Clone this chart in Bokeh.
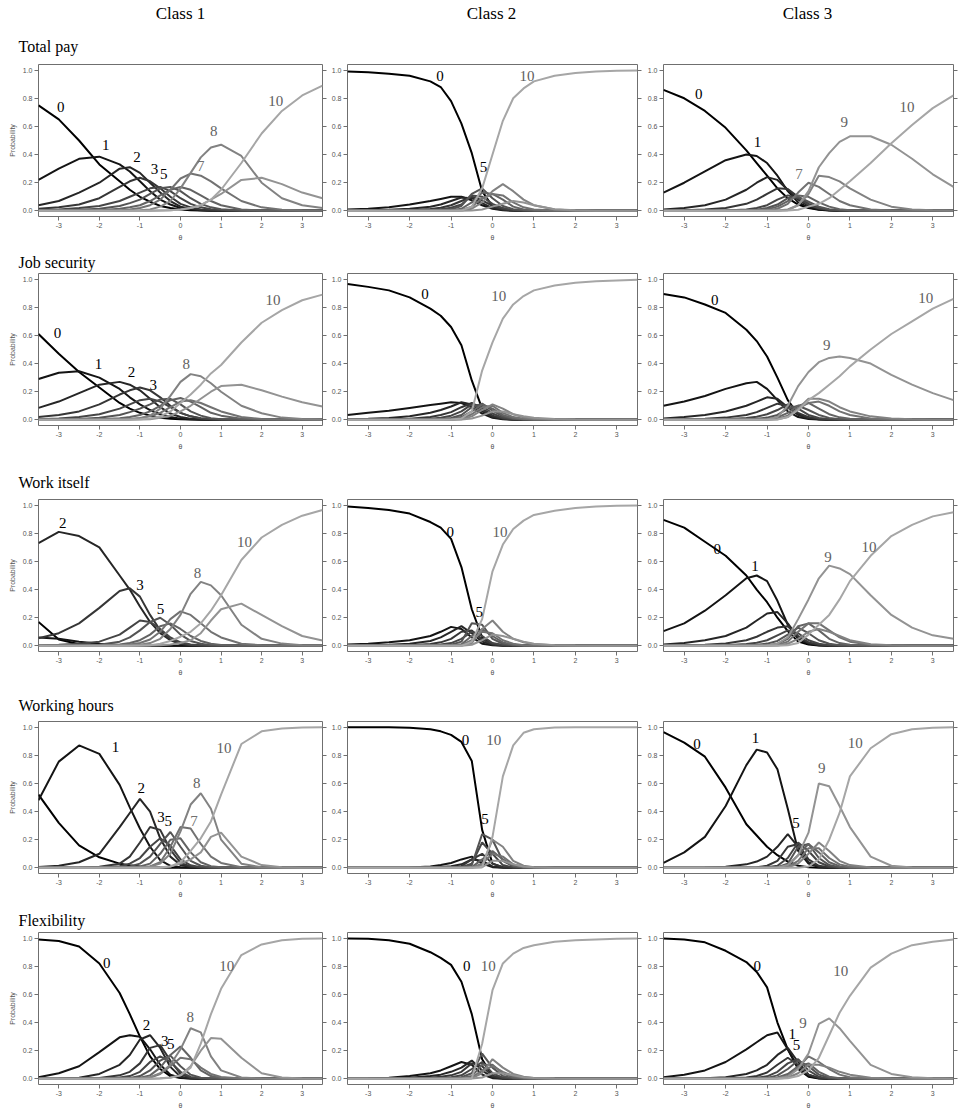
from bokeh.plotting import figure
from bokeh.layouts import column, row
from bokeh.models import Range1d, FixedTicker, LinearAxis, Title, PrintfTickFormatter, ColumnDataSource
from bokeh.core.properties import value
from bokeh.embed import file_html
from bokeh.resources import INLINE

# ---------------- data ----------------
THETA = [-3.5, -3, -2.5, -2, -1.5, -1.25, -1, -0.75, -0.5, -0.25, 0, 0.25, 0.5, 0.75, 1, 1.5, 2, 2.5, 3, 3.5]
CATEGORIES = list(range(11))
ROW_TITLES = ["Total pay", "Job security", "Work itself", "Working hours", "Flexibility"]
CLASS_TITLES = ["Class 1", "Class 2", "Class 3"]
X_TICKS = [-3, -2, -1, 0, 1, 2, 3]
Y_TICKS = [0.0, 0.2, 0.4, 0.6, 0.8, 1.0]

total_pay_1 = [
    [.75, .65, .50, .33, .21, .15, .10, .065, .035, .02, .01, .005, .003, .001, 0, 0, 0, 0, 0, 0],
    [.22, .30, .37, .385, .33, .28, .21, .14, .08, .045, .02, .01, .005, .002, .001, 0, 0, 0, 0, 0],
    [.04, .07, .13, .20, .30, .31, .27, .20, .13, .07, .03, .015, .007, .003, .001, 0, 0, 0, 0, 0],
    [.015, .025, .045, .09, .17, .21, .235, .21, .16, .10, .05, .025, .01, .005, .002, 0, 0, 0, 0, 0],
    [.005, .01, .02, .035, .07, .10, .13, .16, .17, .14, .09, .05, .025, .012, .006, .001, 0, 0, 0, 0],
    [.002, .004, .008, .015, .035, .055, .08, .12, .16, .17, .14, .09, .05, .025, .012, .003, 0, 0, 0, 0],
    [0, 0, .002, .005, .015, .025, .04, .07, .11, .15, .17, .15, .11, .07, .04, .01, .003, 0, 0, 0],
    [0, 0, 0, .001, .005, .01, .02, .04, .08, .15, .23, .265, .25, .21, .16, .07, .025, .008, .002, 0],
    [0, 0, 0, 0, .001, .002, .005, .01, .03, .07, .16, .27, .38, .45, .47, .39, .20, .09, .04, .02],
    [0, 0, 0, 0, 0, 0, 0, .001, .003, .005, .01, .02, .04, .08, .12, .22, .235, .19, .13, .09],
    [0, 0, 0, 0, 0, 0, 0, 0, .003, .005, .01, .02, .04, .08, .15, .34, .55, .71, .82, .89],
]
total_pay_2 = [
    [.99, .985, .975, .96, .92, .88, .78, .62, .41, .14, .03, .008, .002, 0, 0, 0, 0, 0, 0, 0],
    [.01, .015, .025, .045, .07, .085, .10, .10, .075, .04, .015, .005, .002, 0, 0, 0, 0, 0, 0, 0],
    [.002, .004, .008, .015, .03, .045, .07, .095, .09, .055, .02, .007, .002, 0, 0, 0, 0, 0, 0, 0],
    [0, .001, .002, .005, .013, .022, .04, .07, .10, .075, .035, .012, .004, .001, 0, 0, 0, 0, 0, 0],
    [0, 0, .001, .002, .006, .011, .022, .045, .11, .10, .05, .02, .006, .002, 0, 0, 0, 0, 0, 0],
    [0, 0, 0, .001, .003, .006, .012, .035, .12, .16, .09, .035, .012, .004, .001, 0, 0, 0, 0, 0],
    [0, 0, 0, 0, .001, .002, .005, .015, .06, .13, .12, .08, .03, .01, .004, .001, 0, 0, 0, 0],
    [0, 0, 0, 0, 0, .001, .002, .006, .03, .09, .12, .11, .06, .025, .01, .002, 0, 0, 0, 0],
    [0, 0, 0, 0, 0, 0, .001, .003, .015, .06, .14, .19, .14, .08, .04, .01, .003, .001, 0, 0],
    [0, 0, 0, 0, 0, 0, 0, .001, .003, .01, .03, .05, .07, .06, .04, .012, .004, .001, 0, 0],
    [0, 0, 0, 0, 0, 0, 0, .002, .03, .16, .40, .64, .80, .87, .92, .96, .98, .99, .995, .997],
]
total_pay_3 = [
    [.86, .80, .71, .59, .43, .34, .25, .16, .09, .045, .02, .008, .003, .001, 0, 0, 0, 0, 0, 0],
    [.13, .20, .28, .36, .40, .39, .34, .25, .14, .06, .025, .01, .004, .001, 0, 0, 0, 0, 0, 0],
    [.01, .02, .04, .08, .15, .20, .24, .22, .15, .08, .035, .015, .005, .002, 0, 0, 0, 0, 0, 0],
    [.002, .004, .01, .02, .05, .08, .12, .16, .155, .10, .05, .02, .008, .003, .001, 0, 0, 0, 0, 0],
    [0, 0, .001, .002, .01, .02, .04, .08, .11, .09, .045, .018, .007, .003, .001, 0, 0, 0, 0, 0],
    [0, 0, 0, .001, .004, .008, .02, .045, .09, .10, .065, .03, .012, .005, .002, 0, 0, 0, 0, 0],
    [0, 0, 0, 0, .002, .005, .012, .03, .07, .11, .10, .06, .03, .012, .005, .001, 0, 0, 0, 0],
    [0, 0, 0, 0, 0, .001, .005, .015, .05, .13, .20, .17, .12, .07, .04, .01, .003, 0, 0, 0],
    [0, 0, 0, 0, 0, 0, .001, .003, .01, .04, .12, .25, .24, .21, .16, .08, .03, .01, .004, .001],
    [0, 0, 0, 0, 0, 0, 0, .001, .005, .04, .14, .31, .41, .49, .53, .53, .47, .37, .26, .17],
    [0, 0, 0, 0, 0, 0, 0, 0, .002, .008, .03, .05, .09, .15, .21, .34, .48, .61, .73, .82],
]
job_security_1 = [
    [.61, .47, .34, .23, .12, .08, .05, .03, .015, .008, .004, .002, .001, 0, 0, 0, 0, 0, 0, 0],
    [.29, .335, .345, .30, .22, .16, .11, .07, .04, .02, .008, .004, .002, 0, 0, 0, 0, 0, 0, 0],
    [.085, .13, .19, .25, .27, .25, .21, .15, .09, .045, .02, .008, .004, .002, .001, 0, 0, 0, 0, 0],
    [.02, .035, .06, .11, .18, .21, .23, .21, .16, .10, .05, .025, .01, .005, .002, 0, 0, 0, 0, 0],
    [.005, .01, .02, .04, .08, .11, .14, .15, .13, .09, .05, .025, .012, .005, .002, 0, 0, 0, 0, 0],
    [.001, .003, .007, .015, .035, .055, .08, .11, .145, .15, .11, .06, .03, .012, .005, .001, 0, 0, 0, 0],
    [0, .001, .002, .005, .012, .02, .035, .06, .10, .14, .155, .13, .09, .05, .03, .008, .002, 0, 0, 0],
    [0, 0, 0, .001, .004, .007, .013, .025, .05, .09, .13, .14, .12, .09, .06, .02, .006, .002, 0, 0],
    [0, 0, 0, 0, .002, .005, .01, .03, .08, .17, .27, .325, .31, .26, .20, .10, .047, .016, .006, .002],
    [0, 0, 0, 0, 0, 0, .002, .005, .015, .03, .06, .10, .15, .20, .24, .25, .21, .165, .125, .095],
    [0, 0, 0, 0, 0, .002, .005, .01, .025, .06, .12, .18, .25, .33, .39, .55, .69, .78, .85, .89],
]
job_security_2 = [
    [.965, .945, .92, .87, .79, .74, .66, .53, .28, .08, .025, .008, .003, .001, 0, 0, 0, 0, 0, 0],
    [.035, .05, .065, .085, .105, .115, .125, .12, .09, .045, .015, .005, .002, 0, 0, 0, 0, 0, 0, 0],
    [.005, .008, .013, .025, .05, .07, .095, .125, .11, .06, .02, .007, .002, 0, 0, 0, 0, 0, 0, 0],
    [.001, .002, .004, .008, .02, .035, .055, .09, .12, .08, .03, .01, .003, .001, 0, 0, 0, 0, 0, 0],
    [0, 0, .001, .003, .008, .015, .03, .06, .11, .10, .045, .015, .005, .002, 0, 0, 0, 0, 0, 0],
    [0, 0, 0, .001, .003, .006, .013, .035, .09, .115, .065, .025, .008, .003, .001, 0, 0, 0, 0, 0],
    [0, 0, 0, 0, .001, .003, .006, .02, .06, .11, .08, .035, .012, .005, .002, 0, 0, 0, 0, 0],
    [0, 0, 0, 0, 0, .001, .003, .01, .04, .09, .10, .05, .02, .008, .003, .001, 0, 0, 0, 0],
    [0, 0, 0, 0, 0, 0, .001, .005, .025, .07, .11, .08, .04, .018, .008, .002, .001, 0, 0, 0],
    [0, 0, 0, 0, 0, 0, 0, .002, .01, .03, .06, .06, .04, .025, .015, .006, .003, .001, 0, 0],
    [0, 0, 0, 0, 0, 0, .002, .01, .06, .35, .55, .72, .82, .88, .92, .955, .975, .985, .99, .995],
]
job_security_3 = [
    [.895, .87, .82, .76, .64, .56, .45, .30, .14, .04, .015, .005, .002, 0, 0, 0, 0, 0, 0, 0],
    [.10, .13, .17, .22, .26, .27, .22, .14, .06, .02, .006, .002, .001, 0, 0, 0, 0, 0, 0, 0],
    [.01, .02, .035, .06, .10, .13, .16, .15, .09, .035, .012, .004, .001, 0, 0, 0, 0, 0, 0, 0],
    [.002, .004, .008, .016, .035, .055, .085, .115, .10, .05, .02, .007, .002, 0, 0, 0, 0, 0, 0, 0],
    [0, .001, .002, .005, .013, .022, .04, .07, .11, .08, .035, .013, .005, .002, 0, 0, 0, 0, 0, 0],
    [0, 0, 0, .001, .004, .008, .016, .035, .08, .10, .07, .035, .014, .005, .002, 0, 0, 0, 0, 0],
    [0, 0, 0, 0, .001, .003, .007, .018, .05, .10, .12, .08, .04, .018, .008, .002, 0, 0, 0, 0],
    [0, 0, 0, 0, 0, .001, .003, .008, .03, .08, .12, .13, .10, .06, .035, .01, .003, .001, 0, 0],
    [0, 0, 0, 0, 0, 0, .001, .004, .02, .08, .15, .15, .13, .09, .06, .025, .01, .004, .001, 0],
    [0, 0, 0, 0, 0, 0, .002, .02, .10, .24, .34, .41, .44, .45, .44, .40, .32, .25, .19, .14],
    [0, 0, 0, 0, 0, 0, 0, .003, .02, .07, .14, .19, .25, .31, .38, .50, .61, .70, .79, .86],
]
work_itself_1 = [
    [.17, .045, .012, .003, .001, 0, 0, 0, 0, 0, 0, 0, 0, 0, 0, 0, 0, 0, 0, 0],
    [.06, .05, .03, .015, .006, .003, .001, 0, 0, 0, 0, 0, 0, 0, 0, 0, 0, 0, 0, 0],
    [.73, .81, .78, .70, .50, .40, .28, .17, .09, .04, .015, .006, .002, .001, 0, 0, 0, 0, 0, 0],
    [.054, .09, .16, .27, .39, .41, .35, .22, .11, .045, .015, .005, .002, 0, 0, 0, 0, 0, 0, 0],
    [.005, .008, .015, .03, .08, .13, .18, .17, .12, .06, .025, .01, .003, .001, 0, 0, 0, 0, 0, 0],
    [0, .001, .003, .008, .03, .06, .11, .17, .20, .15, .08, .035, .015, .005, .002, 0, 0, 0, 0, 0],
    [0, 0, .001, .003, .01, .02, .04, .08, .14, .16, .12, .07, .035, .015, .007, .001, 0, 0, 0, 0],
    [0, 0, 0, .001, .004, .009, .02, .045, .10, .19, .245, .22, .16, .10, .06, .015, .004, .001, 0, 0],
    [0, 0, 0, 0, .001, .003, .008, .02, .05, .12, .22, .37, .455, .43, .36, .15, .05, .016, .005, .002],
    [0, 0, 0, 0, 0, 0, 0, .002, .005, .01, .02, .04, .09, .18, .26, .30, .22, .14, .07, .038],
    [0, 0, 0, 0, 0, 0, .002, .005, .015, .035, .065, .10, .16, .25, .36, .61, .77, .86, .925, .965],
]
work_itself_2 = [
    [.99, .98, .965, .94, .88, .84, .76, .56, .26, .06, .015, .004, .001, 0, 0, 0, 0, 0, 0, 0],
    [.01, .015, .025, .04, .07, .10, .135, .12, .06, .015, .004, .001, 0, 0, 0, 0, 0, 0, 0, 0],
    [.002, .004, .008, .015, .035, .06, .10, .14, .09, .03, .008, .002, 0, 0, 0, 0, 0, 0, 0, 0],
    [0, .001, .002, .005, .013, .025, .05, .10, .11, .045, .012, .003, .001, 0, 0, 0, 0, 0, 0, 0],
    [0, 0, 0, .001, .004, .009, .02, .05, .10, .07, .02, .006, .002, 0, 0, 0, 0, 0, 0, 0],
    [0, 0, 0, 0, .001, .003, .008, .03, .16, .15, .05, .015, .004, .001, 0, 0, 0, 0, 0, 0],
    [0, 0, 0, 0, 0, .001, .003, .012, .07, .12, .07, .025, .008, .002, 0, 0, 0, 0, 0, 0],
    [0, 0, 0, 0, 0, 0, .001, .005, .04, .10, .09, .04, .015, .005, .002, 0, 0, 0, 0, 0],
    [0, 0, 0, 0, 0, 0, 0, .002, .02, .12, .18, .10, .05, .025, .012, .004, .001, 0, 0, 0],
    [0, 0, 0, 0, 0, 0, 0, .001, .008, .04, .08, .07, .05, .03, .015, .005, .002, .001, 0, 0],
    [0, 0, 0, 0, 0, 0, 0, 0, .03, .19, .53, .72, .83, .89, .93, .96, .98, .99, .995, .998],
]
work_itself_3 = [
    [.895, .84, .74, .64, .50, .40, .31, .20, .105, .03, .01, .003, .001, 0, 0, 0, 0, 0, 0, 0],
    [.105, .16, .25, .36, .48, .50, .46, .32, .15, .05, .015, .005, .001, 0, 0, 0, 0, 0, 0, 0],
    [.01, .02, .04, .07, .13, .18, .23, .24, .16, .06, .02, .006, .002, 0, 0, 0, 0, 0, 0, 0],
    [.002, .004, .008, .017, .04, .065, .10, .13, .14, .07, .025, .008, .002, 0, 0, 0, 0, 0, 0, 0],
    [0, .001, .002, .005, .013, .022, .04, .075, .11, .09, .04, .015, .005, .002, 0, 0, 0, 0, 0, 0],
    [0, 0, 0, .001, .004, .008, .016, .035, .08, .13, .09, .04, .015, .005, .002, 0, 0, 0, 0, 0],
    [0, 0, 0, 0, .001, .002, .005, .015, .05, .14, .16, .11, .05, .02, .008, .002, 0, 0, 0, 0],
    [0, 0, 0, 0, 0, .001, .002, .007, .03, .10, .16, .16, .11, .06, .03, .008, .002, 0, 0, 0],
    [0, 0, 0, 0, 0, 0, .001, .003, .015, .05, .10, .12, .10, .07, .04, .012, .004, .001, 0, 0],
    [0, 0, 0, 0, 0, 0, .003, .015, .06, .19, .33, .48, .57, .55, .51, .36, .22, .13, .075, .05],
    [0, 0, 0, 0, 0, 0, 0, 0, .005, .02, .08, .15, .22, .33, .46, .64, .78, .86, .92, .95],
]
working_hours_1 = [
    [.52, .32, .16, .075, .03, .018, .01, .005, .002, 0, 0, 0, 0, 0, 0, 0, 0, 0, 0, 0],
    [.48, .755, .87, .81, .59, .43, .28, .15, .055, .015, .004, .001, 0, 0, 0, 0, 0, 0, 0, 0],
    [.007, .015, .04, .10, .29, .39, .49, .40, .21, .08, .02, .006, .002, 0, 0, 0, 0, 0, 0, 0],
    [0, .001, .003, .008, .03, .08, .18, .29, .27, .13, .035, .01, .003, 0, 0, 0, 0, 0, 0, 0],
    [0, 0, .001, .003, .012, .03, .07, .15, .21, .16, .06, .018, .005, .001, 0, 0, 0, 0, 0, 0],
    [0, 0, 0, .001, .004, .01, .03, .08, .17, .255, .15, .05, .015, .004, .001, 0, 0, 0, 0, 0],
    [0, 0, 0, 0, .001, .003, .01, .03, .10, .20, .21, .11, .04, .012, .004, 0, 0, 0, 0, 0],
    [0, 0, 0, 0, 0, .001, .003, .01, .04, .15, .29, .28, .17, .08, .035, .005, .001, 0, 0, 0],
    [0, 0, 0, 0, 0, .001, .003, .01, .03, .10, .26, .45, .53, .42, .20, .03, .004, .001, 0, 0],
    [0, 0, 0, 0, 0, 0, 0, .001, .004, .01, .03, .06, .11, .22, .25, .08, .02, .005, .001, 0],
    [0, 0, 0, 0, 0, 0, 0, 0, .002, .01, .04, .12, .21, .33, .52, .88, .97, .99, .998, 1.0],
]
working_hours_2 = [
    [1.0, 1.0, .999, .995, .985, .97, .945, .895, .76, .27, .03, .005, .001, 0, 0, 0, 0, 0, 0, 0],
    [0, 0, .001, .003, .01, .02, .035, .06, .08, .03, .005, .001, 0, 0, 0, 0, 0, 0, 0, 0],
    [0, 0, 0, .001, .003, .006, .012, .025, .06, .05, .01, .002, 0, 0, 0, 0, 0, 0, 0, 0],
    [0, 0, 0, 0, .001, .002, .005, .012, .06, .10, .03, .005, .001, 0, 0, 0, 0, 0, 0, 0],
    [0, 0, 0, 0, 0, 0, .001, .004, .03, .18, .10, .02, .003, 0, 0, 0, 0, 0, 0, 0],
    [0, 0, 0, 0, 0, 0, 0, .002, .02, .24, .20, .05, .01, .002, 0, 0, 0, 0, 0, 0],
    [0, 0, 0, 0, 0, 0, 0, 0, .005, .06, .12, .06, .015, .003, 0, 0, 0, 0, 0, 0],
    [0, 0, 0, 0, 0, 0, 0, 0, .002, .03, .10, .08, .025, .006, .002, 0, 0, 0, 0, 0],
    [0, 0, 0, 0, 0, 0, 0, 0, .001, .02, .20, .15, .05, .015, .005, .001, 0, 0, 0, 0],
    [0, 0, 0, 0, 0, 0, 0, 0, 0, .005, .05, .05, .025, .01, .005, .001, 0, 0, 0, 0],
    [0, 0, 0, 0, 0, 0, 0, 0, 0, .005, .22, .65, .87, .96, .985, .998, 1.0, 1.0, 1.0, 1.0],
]
working_hours_3 = [
    [.965, .89, .79, .57, .31, .23, .15, .09, .045, .015, .005, .001, 0, 0, 0, 0, 0, 0, 0, 0],
    [.035, .11, .22, .44, .73, .84, .82, .70, .42, .12, .03, .006, .001, 0, 0, 0, 0, 0, 0, 0],
    [0, .001, .003, .008, .025, .045, .08, .15, .24, .15, .04, .008, .002, 0, 0, 0, 0, 0, 0, 0],
    [0, 0, 0, 0, .002, .005, .015, .05, .15, .17, .06, .015, .004, .001, 0, 0, 0, 0, 0, 0],
    [0, 0, 0, 0, 0, .001, .004, .015, .07, .18, .12, .04, .01, .002, 0, 0, 0, 0, 0, 0],
    [0, 0, 0, 0, 0, 0, .001, .005, .03, .15, .17, .07, .02, .005, .001, 0, 0, 0, 0, 0],
    [0, 0, 0, 0, 0, 0, 0, .002, .015, .09, .17, .11, .04, .012, .003, 0, 0, 0, 0, 0],
    [0, 0, 0, 0, 0, 0, 0, .001, .007, .05, .14, .14, .07, .025, .008, .001, 0, 0, 0, 0],
    [0, 0, 0, 0, 0, 0, 0, 0, .003, .03, .10, .18, .12, .05, .02, .003, 0, 0, 0, 0],
    [0, 0, 0, 0, 0, 0, 0, .002, .02, .09, .25, .60, .58, .44, .29, .08, .015, .003, 0, 0],
    [0, 0, 0, 0, 0, 0, 0, 0, 0, .001, .01, .06, .20, .39, .65, .85, .95, .985, .995, .999],
]
flexibility_1 = [
    [.99, .98, .94, .82, .61, .46, .30, .16, .07, .02, .006, .002, 0, 0, 0, 0, 0, 0, 0, 0],
    [.012, .04, .09, .19, .295, .31, .30, .21, .10, .03, .008, .002, 0, 0, 0, 0, 0, 0, 0, 0],
    [0, .002, .008, .035, .10, .17, .28, .31, .22, .085, .015, .004, .001, 0, 0, 0, 0, 0, 0, 0],
    [0, 0, .002, .006, .025, .05, .11, .22, .24, .13, .035, .008, .002, 0, 0, 0, 0, 0, 0, 0],
    [0, 0, 0, .002, .01, .02, .05, .12, .16, .12, .05, .014, .004, .001, 0, 0, 0, 0, 0, 0],
    [0, 0, 0, 0, .003, .007, .02, .06, .13, .165, .09, .03, .008, .002, 0, 0, 0, 0, 0, 0],
    [0, 0, 0, 0, .001, .003, .008, .025, .08, .17, .23, .15, .06, .02, .006, 0, 0, 0, 0, 0],
    [0, 0, 0, 0, 0, .001, .003, .01, .035, .09, .15, .14, .08, .035, .013, .002, 0, 0, 0, 0],
    [0, 0, 0, 0, 0, .001, .004, .012, .04, .10, .21, .36, .33, .16, .06, .01, .002, 0, 0, 0],
    [0, 0, 0, 0, 0, 0, 0, .001, .004, .01, .025, .09, .20, .29, .285, .15, .04, .01, .003, .001],
    [0, 0, 0, 0, 0, 0, 0, 0, .002, .008, .025, .08, .25, .46, .64, .88, .955, .985, .995, .998],
]
flexibility_2 = [
    [.998, .995, .985, .96, .90, .86, .81, .69, .46, .14, .02, .005, .001, 0, 0, 0, 0, 0, 0, 0],
    [.002, .004, .008, .02, .04, .06, .09, .12, .10, .03, .005, .001, 0, 0, 0, 0, 0, 0, 0, 0],
    [0, .001, .003, .008, .02, .03, .05, .08, .13, .06, .01, .002, 0, 0, 0, 0, 0, 0, 0, 0],
    [0, 0, .001, .003, .008, .015, .025, .05, .11, .09, .02, .004, .001, 0, 0, 0, 0, 0, 0, 0],
    [0, 0, 0, .001, .003, .006, .012, .025, .07, .12, .04, .008, .002, 0, 0, 0, 0, 0, 0, 0],
    [0, 0, 0, 0, .001, .002, .005, .012, .04, .18, .08, .02, .005, .001, 0, 0, 0, 0, 0, 0],
    [0, 0, 0, 0, 0, .001, .002, .006, .02, .10, .10, .04, .01, .003, .001, 0, 0, 0, 0, 0],
    [0, 0, 0, 0, 0, 0, .001, .003, .01, .06, .09, .05, .02, .006, .002, 0, 0, 0, 0, 0],
    [0, 0, 0, 0, 0, 0, 0, .001, .005, .04, .14, .08, .035, .015, .006, .002, 0, 0, 0, 0],
    [0, 0, 0, 0, 0, 0, 0, 0, .002, .01, .04, .04, .025, .012, .006, .002, .001, 0, 0, 0],
    [0, 0, 0, 0, 0, 0, 0, 0, .005, .25, .63, .82, .89, .93, .95, .975, .985, .99, .995, .998],
]
flexibility_3 = [
    [.998, .99, .97, .91, .83, .76, .65, .40, .21, .07, .015, .003, 0, 0, 0, 0, 0, 0, 0, 0],
    [.012, .03, .06, .12, .21, .26, .31, .33, .21, .08, .02, .005, .001, 0, 0, 0, 0, 0, 0, 0],
    [0, .001, .004, .012, .035, .06, .10, .17, .22, .12, .03, .006, .001, 0, 0, 0, 0, 0, 0, 0],
    [0, 0, .001, .003, .01, .02, .045, .10, .15, .10, .03, .007, .002, 0, 0, 0, 0, 0, 0, 0],
    [0, 0, 0, .001, .004, .008, .018, .05, .11, .14, .06, .015, .003, .001, 0, 0, 0, 0, 0, 0],
    [0, 0, 0, 0, .001, .003, .007, .025, .07, .13, .09, .03, .008, .002, 0, 0, 0, 0, 0, 0],
    [0, 0, 0, 0, 0, .001, .003, .01, .035, .09, .11, .05, .015, .004, .001, 0, 0, 0, 0, 0],
    [0, 0, 0, 0, 0, 0, .001, .005, .02, .08, .16, .12, .07, .03, .012, .002, 0, 0, 0, 0],
    [0, 0, 0, 0, 0, 0, 0, .002, .008, .04, .10, .10, .08, .05, .03, .008, .002, 0, 0, 0],
    [0, 0, 0, 0, 0, 0, .001, .004, .015, .07, .18, .39, .43, .36, .27, .10, .035, .012, .004, .001],
    [0, 0, 0, 0, 0, 0, 0, .001, .005, .02, .06, .15, .31, .47, .59, .79, .89, .95, .975, .99],
]

# category labels: (category, theta, probability) as placed in the reference
labels_total_pay = [
    [(0, -2.95, .74), (1, -1.84, .47), (2, -1.07, .385), (3, -0.64, .30), (5, -0.41, .26), (7, 0.50, .32), (8, 0.82, .57), (10, 2.35, .78)],
    [(0, -1.27, .96), (5, -0.22, .31), (10, 0.83, .96)],
    [(0, -2.65, .83), (1, -1.23, .49), (7, -0.23, .26), (9, 0.86, .63), (10, 2.38, .74)],
]
labels_job_security = [
    [(0, -3.03, .62), (1, -2.02, .40), (2, -1.21, .34), (3, -0.67, .25), (8, 0.14, .40), (10, 2.28, .85)],
    [(0, -1.63, .895), (10, 0.15, .88)],
    [(0, -2.26, .855), (9, 0.44, .535), (10, 2.83, .865)],
]
labels_work_itself = [
    [(2, -2.90, .87), (3, -1.00, .43), (5, -0.49, .26), (8, 0.42, .52), (10, 1.58, .74)],
    [(0, -1.02, .81), (5, -0.32, .24), (10, 0.18, .81)],
    [(0, -2.20, .69), (1, -1.29, .57), (9, 0.47, .63), (10, 1.46, .70)],
]
labels_working_hours = [
    [(1, -1.60, .86), (2, -0.97, .57), (3, -0.48, .36), (5, -0.30, .33), (7, 0.33, .33), (8, 0.40, .60), (10, 1.07, .85)],
    [(0, -0.65, .91), (5, -0.18, .35), (10, 0.03, .91)],
    [(0, -2.69, .88), (1, -1.28, .92), (5, -0.30, .32), (9, 0.32, .71), (10, 1.13, .89)],
]
labels_flexibility = [
    [(0, -1.82, .82), (2, -0.84, .38), (3, -0.39, .27), (5, -0.24, .25), (8, 0.24, .44), (10, 1.14, .80)],
    [(0, -0.62, .80), (10, -0.10, .80)],
    [(0, -1.24, .80), (1, -0.39, .32), (5, -0.29, .24), (9, -0.13, .40), (10, 0.78, .77)],
]

PANELS = [
    [total_pay_1, total_pay_2, total_pay_3],
    [job_security_1, job_security_2, job_security_3],
    [work_itself_1, work_itself_2, work_itself_3],
    [working_hours_1, working_hours_2, working_hours_3],
    [flexibility_1, flexibility_2, flexibility_3],
]
LABELS = [labels_total_pay, labels_job_security, labels_work_itself, labels_working_hours, labels_flexibility]

for r, prow in enumerate(PANELS):
    for c, panel in enumerate(prow):
        for k, curve in enumerate(panel):
            if len(curve) != len(THETA):
                raise ValueError(f"row {r} col {c} cat {k}: {len(curve)} values")

# ---------------- styling ----------------
CURVE_COLORS = ["#000000", "#141414", "#262626", "#363636", "#454545", "#545454",
                "#636363", "#727272", "#828282", "#939393", "#a6a6a6"]
LABEL_COLORS = ["#000000"] * 6 + ["#6e6e6e", "#707070", "#626262", "#626262", "#5e5e5e"]
AXIS_COLOR = "#6f6f6f"
TICK_TEXT = "#555555"
FRAME_W = [284, 290, 290]
LEFT_B = [38, 18, 20]
RIGHT_B = 6
FRAME_H = 152
TOP_B = [40, 29, 46, 42, 31]
BOTTOM_B = 28
ROW_STANDOFF = [20, 5, 17, 15, 8]
SERIF = "Liberation Serif"
SANS = "Liberation Sans"


def style_axis(ax, ticks, fmt, show_labels=True):
    ax.ticker = FixedTicker(ticks=ticks)
    ax.formatter = PrintfTickFormatter(format=fmt)
    ax.axis_line_color = None
    ax.major_tick_line_color = AXIS_COLOR
    ax.major_tick_out = 4
    ax.major_tick_in = 0
    ax.minor_tick_line_color = None
    ax.major_label_text_font = SANS
    ax.major_label_text_color = TICK_TEXT
    if show_labels:
        ax.major_label_text_font_size = "7px"
        ax.major_label_standoff = 2
    else:
        # ticks only: labels are not painted at all
        ax.major_label_text_font_size = "1px"
        ax.major_label_text_alpha = 0
        ax.major_label_text_color = None
        ax.major_label_standoff = 0


def make_header(c):
    """Column heading strip, aligned on the panel frames below it."""
    h = figure(frame_width=FRAME_W[c], frame_height=1,
               x_range=Range1d(0, 1), y_range=Range1d(0, 1),
               x_axis_type=None, y_axis_type=None,
               output_backend="svg", toolbar_location=None, title=None,
               min_border_left=LEFT_B[c], min_border_right=RIGHT_B,
               min_border_top=0, min_border_bottom=0)
    h.outline_line_color = None
    h.xgrid.visible = False
    h.ygrid.visible = False
    h.add_layout(Title(text=CLASS_TITLES[c], align="center", text_font=SERIF,
                       text_font_size="17px", text_font_style="normal", text_color="black",
                       standoff=2), "above")
    return h


def make_panel(r, c):
    p = figure(frame_width=FRAME_W[c], frame_height=FRAME_H,
               x_range=Range1d(-3.5, 3.5), y_range=Range1d(-0.04, 1.04),
               output_backend="svg", toolbar_location=None, title=None,
               min_border_left=LEFT_B[c], min_border_right=RIGHT_B,
               min_border_top=TOP_B[r], min_border_bottom=BOTTOM_B)
    p.xgrid.visible = False
    p.ygrid.visible = False
    p.outline_line_color = AXIS_COLOR
    p.outline_line_width = 1
    p.background_fill_color = "white"
    p.border_fill_color = "white"

    style_axis(p.xaxis[0], X_TICKS, "%d")
    p.xaxis[0].axis_label = "θ"
    p.xaxis[0].axis_label_text_font = SANS
    p.xaxis[0].axis_label_text_font_size = "7px"
    p.xaxis[0].axis_label_text_font_style = "normal"
    p.xaxis[0].axis_label_text_color = TICK_TEXT
    p.xaxis[0].axis_label_standoff = 3

    style_axis(p.yaxis[0], Y_TICKS, "%.1f")
    if c == 0:
        p.yaxis[0].axis_label = "Probability"
        p.yaxis[0].axis_label_text_font = SANS
        p.yaxis[0].axis_label_text_font_size = "7px"
        p.yaxis[0].axis_label_text_font_style = "normal"
        p.yaxis[0].axis_label_text_color = TICK_TEXT
        p.yaxis[0].axis_label_standoff = 4

    right = LinearAxis()
    style_axis(right, Y_TICKS, "%.1f", show_labels=False)
    p.add_layout(right, "right")

    if c == 0:
        p.add_layout(Title(text=ROW_TITLES[r], align="left", offset=-20, text_font=SERIF,
                           text_font_size="16px", text_font_style="normal", text_color="black",
                           standoff=ROW_STANDOFF[r]), "above")

    panel = PANELS[r][c]
    for k in CATEGORIES:
        p.line(THETA, panel[k], line_color=CURVE_COLORS[k], line_width=2)

    lab = LABELS[r][c]
    src = ColumnDataSource(dict(
        x=[t[1] for t in lab], y=[t[2] for t in lab],
        text=[str(t[0]) for t in lab], color=[LABEL_COLORS[t[0]] for t in lab]))
    p.text(x="x", y="y", text="text", source=src, text_color="color",
           text_font=value(SERIF), text_font_size="15px",
           text_align="center", text_baseline="middle")
    return p


rows = [row(*[make_header(c) for c in range(3)], spacing=0)]
for r in range(len(ROW_TITLES)):
    rows.append(row(*[make_panel(r, c) for c in range(3)], spacing=0))
layout = column(*rows, spacing=0)

open("out.html", "w").write(file_html(layout, INLINE))
